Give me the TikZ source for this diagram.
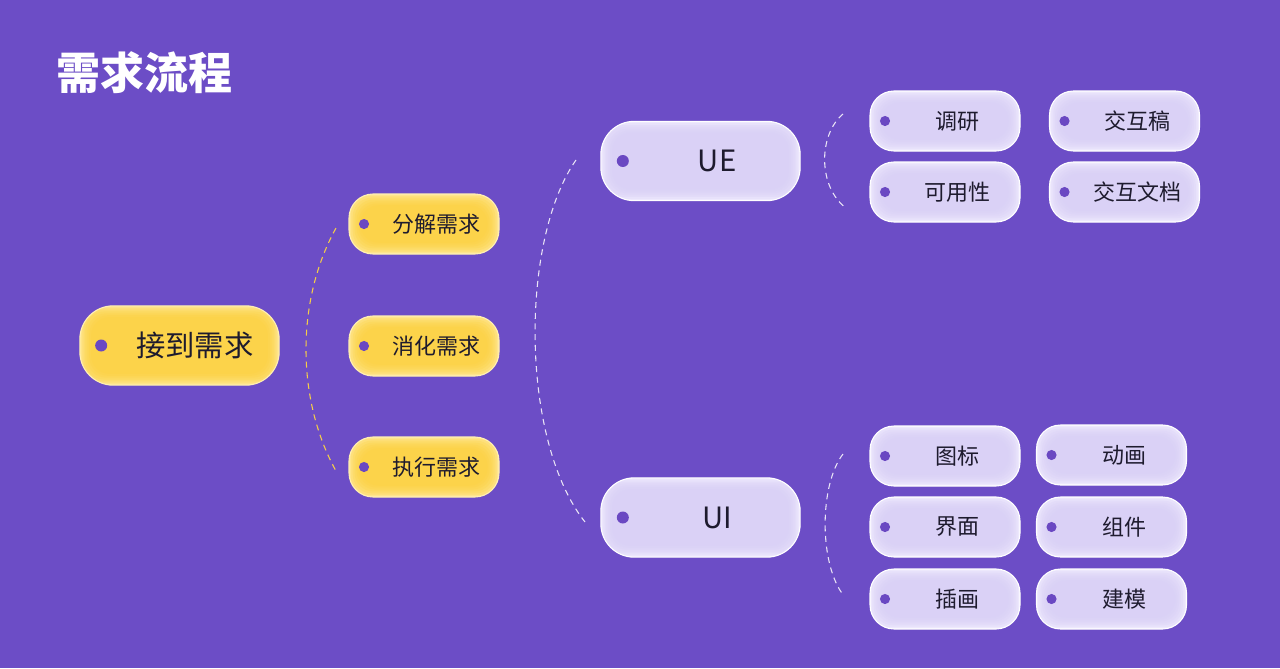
\documentclass[tikz,border=0pt]{standalone}
\usepackage{fontspec}
\newfontfamily\cjk{Noto Sans CJK SC}
\usepackage{tikz}
\usetikzlibrary{positioning}

\definecolor{bgpurple}{HTML}{6C4DC6}
\definecolor{dotpurple}{HTML}{6A48C2}
\definecolor{ink}{HTML}{1E1B2E}
\definecolor{yelEdge}{HTML}{FFE690}
\definecolor{yelMid}{HTML}{FCD13E}
\definecolor{yelLine}{HTML}{FFEFB4}
\definecolor{lilEdge}{HTML}{EEE9FD}
\definecolor{lilMid}{HTML}{D8CEF6}
\definecolor{arcYel}{HTML}{F4CD48}

\newcommand\tagpad{18.75pt}
\tikzset{
  pad/.store in=\tagpad,
  glow/.style n args={4}{fill=#1, path picture={
      \foreach \k in {1,...,6}
        \fill[#2, opacity=0.25, rounded corners=14pt]
          ([shift={(\k*1.4pt,-\k*1.4pt)}]path picture bounding box.north west) rectangle
          ([shift={(-\k*1.4pt,\k*1.4pt)}]path picture bounding box.south east);
      \fill[dotpurple] ([xshift=#3]path picture bounding box.west) circle[radius=#4];
    }},
  tag/.style={rectangle, rounded corners=18pt, minimum width=112.5pt, minimum height=45pt,
    inner sep=0pt, text=ink, font=\cjk\fontsize{16.5pt}{20pt}\selectfont, pad=18.75pt},
  tagbig/.style={tag, rounded corners=25pt, minimum width=149.5pt, minimum height=59.5pt,
    font=\cjk\fontsize{22pt}{26pt}\selectfont, pad=23pt},
  yellowtag/.style={draw=yelLine, line width=0.8pt, glow={yelEdge}{yelMid}{11.25pt}{3.8pt}},
  yellowbig/.style={draw=yelLine, line width=0.8pt, glow={yelEdge}{yelMid}{16pt}{4.5pt}},
  liltag/.style={draw=white, line width=0.8pt, glow={lilEdge}{lilMid}{11.25pt}{3.8pt}},
  lilbig/.style={draw=white, line width=0.8pt, glow={lilEdge}{lilMid}{16.5pt}{4.5pt}},
  bracket/.style={line width=0.8pt, dash pattern=on 4.5pt off 3.5pt},
  every node/.append style={execute at begin node=\hspace*{\tagpad}},
}

\begin{document}
\begin{tikzpicture}[x=0.75pt, y=-0.75pt]
  \fill[bgpurple] (0,0) rectangle (1280,668);
  \useasboundingbox (0,0) rectangle (1280,668);

  % title
  \node[anchor=west, inner sep=0pt, pad=0pt, text=white, font=\cjk\bfseries\fontsize{33pt}{36pt}\selectfont] (title) at (56,73) {需求流程};

  % left column: receiving and handling the request
  \node[tagbig, yellowbig] (recv) at (179.5,345.5) {接到需求};
  \node[tag, yellowtag] (split) at (424,224) {分解需求};
  \node[tag, yellowtag] (digest) at (424,346) {消化需求};
  \node[tag, yellowtag] (exec) at (424,467) {执行需求};
  \draw[bracket, arcYel] (336,228) .. controls (296,300) and (296,399) .. (336,471);

  % middle: UE / UI
  \node[tagbig, lilbig, pad=25pt] (ue) at (700.5,161) {UE};
  \node[tagbig, lilbig, pad=25pt] (ui) at (700.5,517.5) {UI};
  \draw[bracket, white!85!bgpurple] (576,160) .. controls (520,240) and (520,440) .. (585,522);

  % UE outputs
  \node[tag, liltag] (survey) at (945,121) {调研};
  \node[tag, liltag] (usable) at (945,192) {可用性};
  \node[tag, liltag] (proto) at (1124.5,121) {交互稿};
  \node[tag, liltag] (spec) at (1124.5,192) {交互文档};
  \draw[bracket, white!85!bgpurple] (843,114) .. controls (818,135) and (818,187) .. (846,208);

  % UI outputs
  \node[tag, liltag] (icon) at (945,456) {图标};
  \node[tag, liltag] (screen) at (945,527) {界面};
  \node[tag, liltag] (illus) at (945,599) {插画};
  \node[tag, liltag] (motion) at (1111.5,455) {动画};
  \node[tag, liltag] (widget) at (1111.5,527) {组件};
  \node[tag, liltag] (model) at (1111.5,599) {建模};
  \draw[bracket, white!85!bgpurple] (843,454) .. controls (819,485) and (819,565) .. (844,596);
\end{tikzpicture}
\end{document}
